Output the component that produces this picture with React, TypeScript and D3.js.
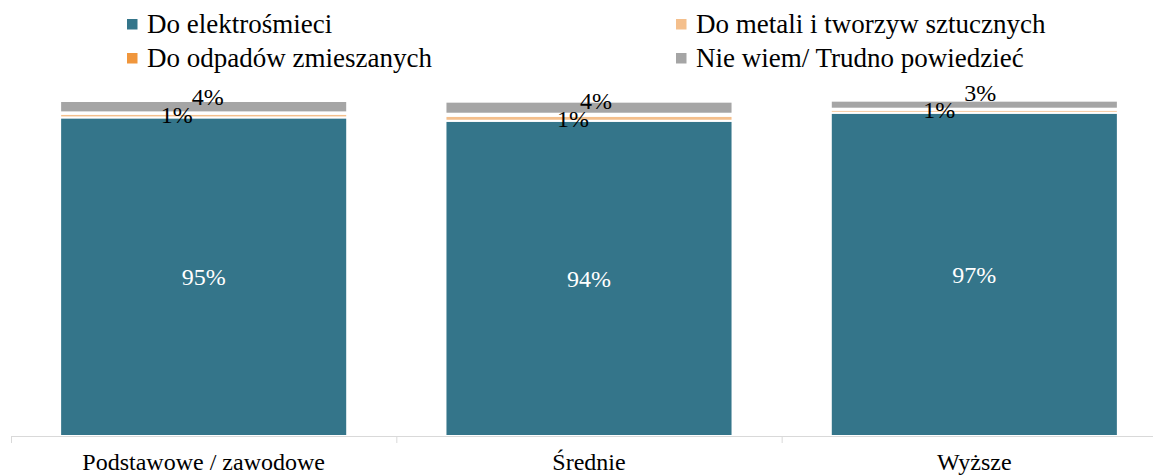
import React from "react";
import * as d3 from "d3";

const categories = ["Podstawowe / zawodowe", "Średnie", "Wyższe"];
const seriesNames = [
  "Do elektrośmieci",
  "Do metali i tworzyw sztucznych",
  "Do odpadów zmieszanych",
  "Nie wiem/ Trudno powiedzieć",
];
const elektro = [95.1, 94.1, 96.5];
const metale = [1.1, 1.5, 0.9];
const zmieszane = [0.4, 0.6, 0.3];
const nieWiem = [3.4, 3.6, 2.4];
const labelsElektro = ["95%", "94%", "97%"];
const labelsMetale = ["1%", "1%", "1%"];
const labelsNieWiem = ["4%", "4%", "3%"];

const colors = ["#34758A", "#F4BF8C", "#F0963C", "#A5A5A5"];

// manual label nudges (layout only)
const metalDx = [-27, -16, -35];
const metalDy = [5.7, 6.6, 5.5];
const nwDx = [4, 7, 6];
const nwDy = [4, 7.6, 0.5];

const W = 1153;
const H = 476;
const FONT = "Liberation Serif";

export default function App() {
  const x = d3.scaleBand<string>().domain(categories).range([11, 1167]).paddingInner(0.255).paddingOuter(0.1275);
  const y = d3.scaleLinear().domain([0, 100]).range([436, 101]);

  const rows = categories.map((c, i) => ({
    cat: c,
    s0: elektro[i],
    s1: metale[i],
    s2: zmieszane[i],
    s3: nieWiem[i],
  }));
  const stack = d3.stack<any>().keys(["s0", "s1", "s2", "s3"]);
  const series = stack(rows);

  const step = x.step();
  const ts = { fontFamily: FONT };

  const legendPos = [
    { x: 127, y: 33 },
    { x: 676, y: 33 },
    { x: 127, y: 67 },
    { x: 676, y: 67 },
  ];

  return (
    <svg
      width={W}
      height={H}
      style={{ position: "absolute", left: 0, top: 0, background: "#fff" }}
    >
      {seriesNames.map((n, i) => (
        <g key={n}>
          <rect x={legendPos[i].x} y={legendPos[i].y - 14} width={10.5} height={10.5} fill={colors[i]} />
          <text x={legendPos[i].x + 20} y={legendPos[i].y} fontSize={27} fill="#000" style={ts}>
            {n}
          </text>
        </g>
      ))}

      {series.map((s, si) => (
        <g key={si} fill={colors[si]}>
          {s.map((d, i) => (
            <rect
              key={i}
              x={x(categories[i])}
              y={y(d[1])}
              width={x.bandwidth()}
              height={Math.max(0, y(d[0]) - y(d[1]))}
              stroke="#fff"
              strokeWidth={2}
            />
          ))}
        </g>
      ))}

      {categories.map((c, i) => {
        const cx = (x(c) as number) + x.bandwidth() / 2;
        const s0 = series[0][i];
        const s3 = series[3][i];
        return (
          <g key={c} fontSize={24} style={ts}>
            <text x={cx} y={(y(s0[0]) + y(s0[1])) / 2 + 8.5} textAnchor="middle" fill="#fff">
              {labelsElektro[i]}
            </text>
            <text x={cx + metalDx[i]} y={y(s0[1]) + metalDy[i]} textAnchor="middle" fill="#000">
              {labelsMetale[i]}
            </text>
            <text x={cx + nwDx[i]} y={y(s3[1]) + nwDy[i]} textAnchor="middle" fill="#000">
              {labelsNieWiem[i]}
            </text>
          </g>
        );
      })}

      <line x1={11} x2={1167} y1={436.5} y2={436.5} stroke="#D9D9D9" strokeWidth={1} />
      {[0, 1, 2, 3].map((k) => (
        <line key={k} x1={11 + k * step + 0.5} x2={11 + k * step + 0.5} y1={436} y2={443} stroke="#D9D9D9" />
      ))}
      {categories.map((c) => (
        <text
          key={c}
          x={(x(c) as number) + x.bandwidth() / 2}
          y={470}
          textAnchor="middle"
          fontSize={24}
          fill="#000"
          style={ts}
        >
          {c}
        </text>
      ))}
    </svg>
  );
}
